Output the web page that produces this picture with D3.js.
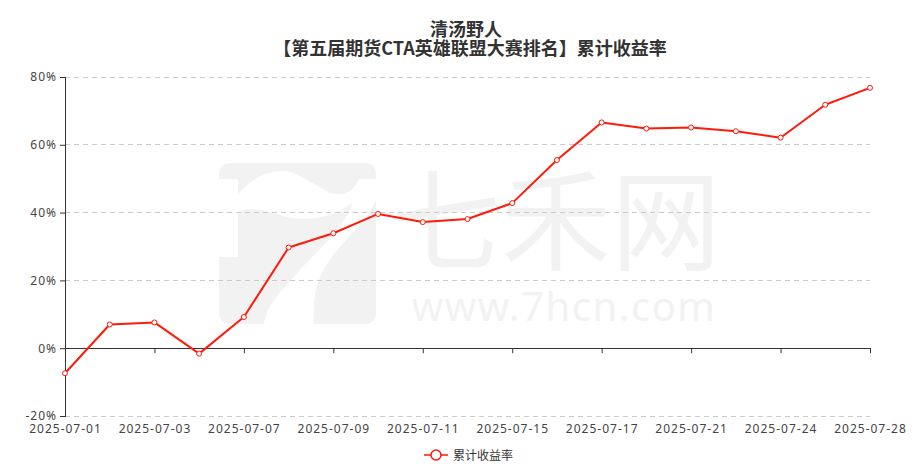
<!DOCTYPE html>
<html>
<head>
<meta charset="utf-8">
<script src="https://cdn.jsdelivr.net/npm/d3@7"></script>
<style>
html,body{margin:0;padding:0;background:#fff;}
svg{display:block;}
</style>
</head>
<body>
<svg id="chart" width="923" height="474"></svg>
<script>
const titleText = "清汤野人";
const subtitleText = "【第五届期货CTA英雄联盟大赛排名】累计收益率";
const seriesName = "累计收益率";
const dates = ["2025-07-01","2025-07-02","2025-07-03","2025-07-04","2025-07-07","2025-07-08","2025-07-09","2025-07-10","2025-07-11","2025-07-14","2025-07-15","2025-07-16","2025-07-17","2025-07-18","2025-07-21","2025-07-22","2025-07-24","2025-07-25","2025-07-28"];
const values = [-7.4, 7.0, 7.6, -1.6, 9.2, 29.7, 33.9, 39.6, 37.2, 38.1, 42.8, 55.5, 66.6, 64.8, 65.1, 64.0, 62.1, 71.8, 76.8];
const yTicks = [-20, 0, 20, 40, 60, 80];

(function () {
const svg = d3.select("#chart");
const pLeft = 65, pRight = 870, pTop = 77, pBottom = 416;
const font = "'Noto Sans','Noto Sans CJK SC',sans-serif";

const x = d3.scalePoint().domain(dates).range([pLeft, pRight]);
const y = d3.scaleLinear().domain([-20, 80]).range([pBottom, pTop]);

// watermark
const wm = svg.append("g").attr("fill", "#f2f2f2");
wm.append("path").attr("d", "M219,175 Q219,163 231,163 L364,163 Q376,163 376,175 L376,179 L359,179 C352,195 340,196 331,193 C320,189 300,173 286,171 C270,170 252,176 238,195 L238,179 L219,179 Z");
wm.append("path").attr("d", "M238,212 C250,207 262,209 280,215 C300,222 332,220 353,202 C345,226 322,246 302,268 C282,290 266,305 264,324 L231,324 Q219,324 219,312 L219,257 L238,257 Z");
wm.append("path").attr("d", "M376,200 L376,312 Q376,324 364,324 L314,324 C312,300 316,278 331,258 C346,238 366,222 376,200 Z");
wm.append("text").attr("x", 556).attr("y", 262).attr("text-anchor", "middle")
  .attr("font-family", "'Noto Sans CJK SC',sans-serif").attr("font-size", 110).attr("font-weight", 400)
  .attr("letter-spacing", 0).text("七禾网");
wm.append("text").attr("x", 564).attr("y", 321).attr("text-anchor", "middle")
  .attr("font-family", font).attr("font-size", 40).attr("letter-spacing", 1.5).text("www.7hcn.com");

// grid lines
svg.append("g").selectAll("line").data(yTicks.filter(d => d !== 0)).join("line")
  .attr("x1", pLeft).attr("x2", pRight)
  .attr("y1", d => y(d)).attr("y2", d => y(d))
  .attr("stroke", "#cccccc").attr("stroke-dasharray", "5,4").attr("stroke-width", 1)
  .attr("shape-rendering", "crispEdges");

// y axis
const yAxis = d3.axisLeft(y).tickValues(yTicks).tickFormat(d => d + "%").tickSize(5).tickPadding(3);
const gy = svg.append("g").attr("transform", `translate(${pLeft},0)`).call(yAxis);
gy.select(".domain").attr("stroke", "#333").attr("shape-rendering", "crispEdges");
gy.selectAll(".tick line").attr("stroke", "#333");
gy.selectAll("text").attr("font-family", font).attr("font-size", 12).attr("fill", "#444").attr("letter-spacing", 1);

// x axis line on zero
const labelDates = dates.filter((d, i) => i % 2 === 0);
const xAxis = d3.axisBottom(x).tickValues(labelDates).tickSize(5).tickFormat("").tickSizeOuter(0);
const gx = svg.append("g").attr("transform", `translate(0,${y(0)})`).call(xAxis);
gx.select(".domain").attr("stroke", "#333").attr("shape-rendering", "crispEdges");
gx.selectAll(".tick line").attr("stroke", "#333");
gx.selectAll(".tick").filter(d => d === dates[0]).select("line").remove();

// x labels at bottom
const gxl = svg.append("g").attr("transform", `translate(0,${pBottom})`)
  .call(d3.axisBottom(x).tickValues(labelDates).tickSize(0).tickPadding(8));
gxl.select(".domain").remove();
gxl.selectAll("text").attr("font-family", font).attr("font-size", 12).attr("fill", "#444").attr("letter-spacing", 1);

// line
const line = d3.line().x((d, i) => x(dates[i])).y(d => y(d));
svg.append("path").datum(values).attr("d", line)
  .attr("fill", "none").attr("stroke", "#ff1a0a").attr("stroke-width", 2).attr("stroke-linejoin", "round");
svg.append("g").selectAll("circle").data(values).join("circle")
  .attr("cx", (d, i) => x(dates[i])).attr("cy", d => y(d)).attr("r", 2.5)
  .attr("fill", "#fff").attr("stroke", "#ff1a0a").attr("stroke-width", 1);

// title
svg.append("text").attr("x", 466).attr("y", 36).attr("text-anchor", "middle")
  .attr("font-family", "'Noto Sans CJK SC',sans-serif").attr("font-weight", "bold").attr("font-size", 18)
  .attr("fill", "#333").text(titleText);
svg.append("text").attr("x", 470).attr("y", 55).attr("text-anchor", "middle")
  .attr("font-family", "'Noto Sans CJK SC',sans-serif").attr("font-weight", "bold").attr("font-size", 18)
  .attr("fill", "#333").text(subtitleText);

// legend
const lg = svg.append("g");
lg.append("line").attr("x1", 424).attr("x2", 448).attr("y1", 455).attr("y2", 455)
  .attr("stroke", "#ff1a0a").attr("stroke-width", 1.5);
lg.append("circle").attr("cx", 436).attr("cy", 455).attr("r", 5)
  .attr("fill", "#fff").attr("stroke", "#ff1a0a").attr("stroke-width", 1.5);
lg.append("text").attr("x", 453).attr("y", 459.5).attr("font-family", "'Noto Sans CJK SC',sans-serif")
  .attr("font-size", 12).attr("fill", "#333").text(seriesName);
})();
</script>
</body>
</html>
